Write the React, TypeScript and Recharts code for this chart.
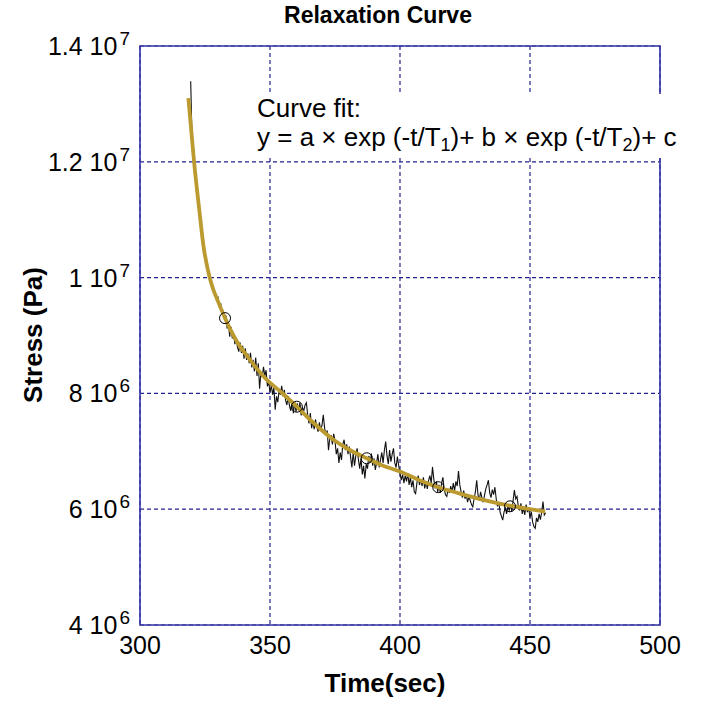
import React from 'react';
import { ComposedChart, Line, XAxis, YAxis, CartesianGrid, ReferenceArea } from 'recharts';

const FONT = '"Liberation Sans", Arial, Helvetica, sans-serif';

// x axis
const timeTicks = [300, 350, 400, 450, 500];
// y axis, in units of 1e6 Pa
const stressTicks = [4, 6, 8, 10, 12, 14];
const stressTickMantissa = ['4', '6', '8', '1', '1.2', '1.4'];
const stressTickExponent = ['6', '6', '6', '7', '7', '7'];

// measured stress (1e6 Pa), sampled every 0.5 s starting at 319.5 s
const sampleStart = 319.5;
const sampleStep = 0.5;
const measuredStress = [
  13.39, 12.42, 12.15, 11.93, 11.70, 11.52, 11.29, 11.12, 10.90, 10.75,
  10.57, 10.46, 10.28, 10.17, 10.04, 9.99, 9.88, 9.86, 9.76, 9.74,
  9.63, 9.66, 9.50, 9.56, 9.40, 9.42, 9.28, 9.35, 9.12, 9.22,
  8.98, 9.15, 8.95, 9.02, 8.85, 8.96, 8.80, 8.72, 8.88, 8.70,
  8.82, 8.60, 8.78, 8.58, 8.69, 8.52, 8.70, 8.45, 8.58, 8.38,
  8.62, 8.30, 8.52, 8.08, 8.35, 8.28, 8.46, 8.30, 8.40, 8.12,
  8.20, 8.02, 8.14, 7.98, 8.10, 7.72, 7.95, 7.85, 8.05, 7.98,
  8.13, 7.95, 8.06, 7.88, 7.80, 7.95, 7.78, 7.70, 7.88, 7.66,
  7.85, 7.68, 7.83, 7.70, 7.84, 7.62, 7.75, 7.70, 7.80, 7.84,
  7.62, 7.48, 7.66, 7.40, 7.52, 7.38, 7.55, 7.42, 7.34, 7.50,
  7.36, 7.45, 7.63, 7.40, 7.28, 7.36, 7.02, 7.22, 7.28, 7.12,
  7.30, 7.18, 6.95, 7.05, 6.80, 6.98, 6.85, 7.12, 7.20, 7.02,
  7.12, 6.95, 7.08, 6.90, 6.72, 6.98, 6.75, 6.92, 7.05, 6.86,
  6.70, 6.88, 6.60, 6.75, 6.53, 6.78, 6.70, 6.92, 6.80, 6.96,
  6.75, 6.88, 6.68, 6.80, 6.95, 6.72, 6.85, 6.98, 6.80, 7.02,
  7.17, 6.92, 6.78, 7.02, 6.82, 6.95, 7.05, 6.80, 6.72, 6.91,
  6.75, 6.62, 6.50, 6.60, 6.45, 6.58, 6.48, 6.62, 6.42, 6.55,
  6.38, 6.50, 6.30, 6.27, 6.45, 6.58, 6.42, 6.52, 6.40, 6.55,
  6.36, 6.48, 6.35, 6.50, 6.58, 6.45, 6.73, 6.52, 6.36, 6.48,
  6.30, 6.42, 6.28, 6.45, 6.55, 6.34, 6.25, 6.22, 6.35, 6.28,
  6.40, 6.30, 6.45, 6.32, 6.48, 6.40, 6.66, 6.42, 6.30, 6.20,
  6.32, 6.18, 6.25, 6.12, 6.22, 6.15, 6.08, 6.04, 6.18, 6.30,
  6.50, 6.25, 6.15, 6.30, 6.20, 6.12, 6.24, 6.35, 6.42, 6.50,
  6.28, 6.20, 6.34, 6.25, 6.38, 6.18, 6.05, 6.12, 5.95, 5.88,
  5.81, 5.95, 6.02, 5.92, 6.05, 5.98, 6.08, 5.96, 6.15, 6.33,
  6.18, 6.22, 6.05, 5.98, 6.10, 5.92, 6.02, 5.90, 6.08, 5.95,
  6.02, 5.86, 5.96, 5.78, 5.70, 5.67, 5.85, 5.78, 5.92, 5.82,
  5.95, 6.13, 5.90, 5.94,
];

// fitted curve (1e6 Pa)
const fitTime = [318.6, 319.5, 320.8, 322.8, 324.4, 326.7, 328.3, 329.9, 332.7, 337.2, 342.3, 348, 355.1, 360.3, 367, 374.4, 380, 387.2, 393, 400, 407, 414.7, 423, 432, 442.3, 450, 455.8];
const fitStress = [13.10, 12.65, 12.00, 11.17, 10.55, 10.02, 9.78, 9.60, 9.30, 8.90, 8.58, 8.27, 7.99, 7.77, 7.48, 7.20, 7.04, 6.88, 6.76, 6.65, 6.51, 6.38, 6.27, 6.16, 6.06, 6.00, 5.96];

// open circle markers on the fit
const markerTime = [332.7, 360.3, 387.2, 414.7, 442.3];
const markerStress = [9.30, 7.77, 6.88, 6.38, 6.05];

const measured = measuredStress.map((v, i) => ({ t: sampleStart + i * sampleStep, stress: v }));
const fitted = fitTime.map((t, i) => ({ t, fit: fitStress[i] }));
const markers = markerTime.map((t, i) => ({ t, mark: markerStress[i] }));

const GRID = '#23238f';
const FRAME = '#3434a2';
const GOLD = '#bb9a2f';

function XTick(props: any) {
  const { x, y, payload } = props;
  return (
    <text x={x} y={y} dy={19} textAnchor="middle" fontFamily={FONT} fontSize={25} fill="#000">
      {payload.value}
    </text>
  );
}

function YTick(props: any) {
  const { x, y, payload } = props;
  const i = stressTicks.indexOf(payload.value);
  return (
    <text x={x} y={y} dy={9} textAnchor="end" fontFamily={FONT} fontSize={25} fill="#000">
      <tspan>{stressTickMantissa[i]} 10</tspan>
      <tspan dx={2} dy={-10} fontSize={19}>{stressTickExponent[i]}</tspan>
    </text>
  );
}

const subStyle = { fontSize: 18, verticalAlign: '-5px', lineHeight: 0 } as const;

export default function App() {
  return (
    <div style={{ position: 'absolute', left: 0, top: 0, width: 701, height: 706, background: '#fff', fontFamily: FONT }}>
      <ComposedChart width={701} height={706} margin={{ top: 46, right: 41, left: 10, bottom: 41 }}>
        <CartesianGrid stroke={GRID} strokeDasharray="4 3" strokeWidth={1.2} />
        <XAxis
          type="number"
          dataKey="t"
          domain={[300, 500]}
          ticks={timeTicks}
          allowDataOverflow
          axisLine={false}
          tickLine={false}
          tickSize={0}
          tickMargin={10}
          height={40}
          tick={<XTick />}
          label={{
            content: () => (
              <text x={385} y={692} textAnchor="middle" fontFamily={FONT} fontWeight="bold" fontSize={26} fill="#000">
                Time(sec)
              </text>
            ),
          }}
        />
        <YAxis
          type="number"
          domain={[4, 14]}
          ticks={stressTicks}
          allowDataOverflow
          axisLine={false}
          tickLine={false}
          tickSize={0}
          tickMargin={10}
          width={130}
          tick={<YTick />}
          label={{
            content: () => (
              <text x={33} y={335} transform="rotate(-90 33 335)" textAnchor="middle" dominantBaseline="central" fontFamily={FONT} fontWeight="bold" fontSize={26} fill="#000">
                Stress (Pa)
              </text>
            ),
          }}
        />
        <ReferenceArea x1={300} x2={500} y1={4} y2={14} fill="none" fillOpacity={0} stroke={FRAME} strokeWidth={1.6} ifOverflow="visible" />
        <Line data={measured} dataKey="stress" type="linear" stroke="#111" strokeWidth={1.1} dot={false} isAnimationActive={false} />
        <Line data={fitted} dataKey="fit" type="monotone" stroke={GOLD} strokeWidth={3.8} dot={false} isAnimationActive={false} />
        <Line data={markers} dataKey="mark" stroke="none" dot={{ r: 5.5, fill: 'none', stroke: '#000', strokeWidth: 1 }} isAnimationActive={false} />
      </ComposedChart>
      <div style={{ position: 'absolute', left: 258, top: 3, width: 240, textAlign: 'center', fontSize: 23, lineHeight: '24px', fontWeight: 'bold', whiteSpace: 'nowrap' }}>
        Relaxation Curve
      </div>
      <div style={{ position: 'absolute', left: 252, top: 94, width: 440, height: 64, background: '#fff' }}>
        <div style={{ position: 'absolute', left: 5, top: 0, fontSize: 26, lineHeight: '29px', whiteSpace: 'nowrap', color: '#000' }}>
          <div>Curve fit:</div>
          <div>
            y = a × exp (-t/T<sub style={subStyle}>1</sub>)+ b × exp (-t/T<sub style={subStyle}>2</sub>)+ c
          </div>
        </div>
      </div>
    </div>
  );
}
